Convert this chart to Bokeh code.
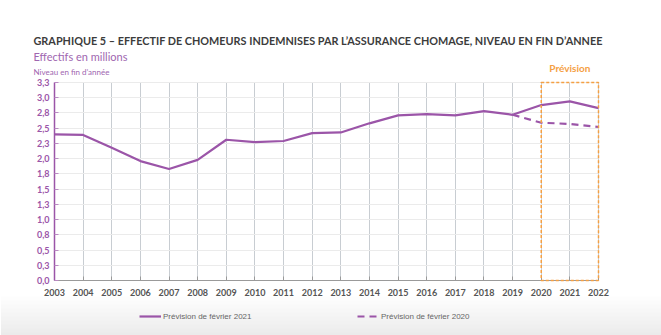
from bokeh.plotting import figure
from bokeh.models import (ColumnDataSource, BoxAnnotation, Label, Legend, LegendItem, Title,
                          FixedTicker, CustomJSTickFormatter, Range1d)
from bokeh.embed import file_html
from bokeh.resources import INLINE

years = list(range(2003, 2023))
feb2021 = [2.40, 2.39, 2.18, 1.96, 1.83, 1.98, 2.31, 2.27, 2.29, 2.42, 2.43,
           2.58, 2.71, 2.73, 2.71, 2.78, 2.72, 2.88, 2.94, 2.83]
years_2020 = [2019, 2020, 2021, 2022]
feb2020 = [2.72, 2.59, 2.57, 2.52]
y_ticks = [0.0, 0.25, 0.5, 0.75, 1.0, 1.25, 1.5, 1.75, 2.0, 2.25, 2.5, 2.75, 3.0, 3.25]
forecast_years = [2020, 2022]

PURPLE = "#9b55a8"
ORANGE = "#f5a043"
W, H = 661, 335

# pixel layout (screen px)
AX_LEFT, AX_RIGHT, AX_TOP, AX_BOTTOM = 54, 598, 82, 280
FRAME_TOP = 62
x0, x1 = years[0], years[-1]
y1 = y_ticks[-1]
px_x = (AX_RIGHT - AX_LEFT) / (x1 - x0)
px_y = (AX_BOTTOM - AX_TOP) / y1

def dx(px):  # screen x -> data x
    return x0 + (px - AX_LEFT) / px_x

def dy(py):  # screen y (from top) -> data y
    return (AX_BOTTOM - py) / px_y

p = figure(width=W, height=H, output_backend="svg", toolbar_location=None,
           x_range=Range1d(dx(0), dx(W)), y_range=Range1d(dy(H), dy(FRAME_TOP)),
           min_border_left=0, min_border_right=0,
           min_border_top=FRAME_TOP, min_border_bottom=0)
p.outline_line_color = None
p.background_fill_color = "white"
p.border_fill_color = "white"
p.title = None

p.xaxis.ticker = FixedTicker(ticks=years)
p.yaxis.ticker = FixedTicker(ticks=y_ticks)
p.yaxis.formatter = CustomJSTickFormatter(code="return tick.toFixed(1).replace('.', ',');")
p.xaxis.formatter = CustomJSTickFormatter(code="return tick.toFixed(0);")
p.yaxis.fixed_location = x0
p.xaxis.fixed_location = 0
p.yaxis.bounds = (0, y1)
p.xaxis.bounds = (x0, x1)

for ax in (p.xaxis, p.yaxis):
    ax.minor_tick_line_color = None
    ax.major_tick_in = 4
    ax.major_tick_out = 0
    ax.major_label_text_font = "Lato"
    ax.major_label_text_font_style = "bold"
    ax.major_label_text_font_size = "9px"
p.xaxis.major_tick_line_color = "#9a9a9a"
p.yaxis.major_tick_line_color = "#b98ac2"
p.xaxis.major_label_text_color = "#555555"
p.yaxis.major_label_text_color = PURPLE
p.xaxis.axis_line_color = "#9a9a9a"
p.yaxis.axis_line_color = PURPLE
p.yaxis.axis_line_width = 1.5
p.xaxis.major_label_standoff = 8
p.yaxis.major_label_standoff = 5

p.xgrid.grid_line_color = "#c8cdd2"
p.xgrid.cross_bounds = (0, y1)
p.ygrid.grid_line_color = "#ebebeb"
p.ygrid.cross_bounds = (x0, x1)

# soft grey gradient at the bottom of the picture
for top_px in range(296, 336, 4):
    p.add_layout(BoxAnnotation(top=dy(top_px), fill_color="black", fill_alpha=0.008,
                               line_alpha=0, level="underlay"))

src1 = ColumnDataSource(dict(x=years, y=feb2021))
src2 = ColumnDataSource(dict(x=years_2020, y=feb2020))
r1 = p.line("x", "y", source=src1, line_color=PURPLE, line_width=2.2)
r2 = p.line("x", "y", source=src2, line_color=PURPLE, line_width=2.2, line_dash="7 5")

box = BoxAnnotation(left=forecast_years[0], right=forecast_years[1], bottom=0, top=y1,
                    fill_alpha=0, line_color=ORANGE, line_alpha=1, line_width=1.5,
                    line_dash="3 2")
p.add_layout(box)

p.add_layout(Label(x=(forecast_years[0] + forecast_years[1]) / 2, y=dy(67),
                   text="Prévision", text_font="Lato",
                   text_font_size="10px", text_font_style="bold", text_color=ORANGE,
                   text_align="center", text_baseline="middle"))
p.add_layout(Label(x=dx(33), y=dy(71), text="Niveau en fin d’année",
                   text_font="Lato", text_font_size="8px", text_color="#a066b0",
                   text_align="left", text_baseline="middle"))

p.add_layout(Title(text="Effectifs en millions", text_font="Lato", text_font_size="11px",
                   text_font_style="normal", text_color="#a066b0", align="left",
                   offset=33, standoff=0), "above")
p.add_layout(Title(text="GRAPHIQUE 5 – EFFECTIF DE CHOMEURS INDEMNISES PAR L’ASSURANCE CHOMAGE, NIVEAU EN FIN D’ANNEE",
                   text_font="Lato", text_font_size="10.85px", text_font_style="bold",
                   text_color="#3c3c3c", align="left", offset=33, standoff=1), "above")

legend = Legend(items=[LegendItem(label="Prévision de février 2021", renderers=[r1]),
                       LegendItem(label="Prévision de février 2020", renderers=[r2])],
                orientation="horizontal", location=(139, H - 321),
                spacing=100,
                label_text_font="Liberation Sans", label_text_font_size="8px",
                label_text_color="#666666", glyph_width=22, glyph_height=10,
                label_height=10, label_width=94, border_line_color=None,
                background_fill_alpha=0, padding=0, margin=0, label_standoff=2)
p.add_layout(legend, "center")

open("out.html", "w").write(file_html(p, INLINE))
